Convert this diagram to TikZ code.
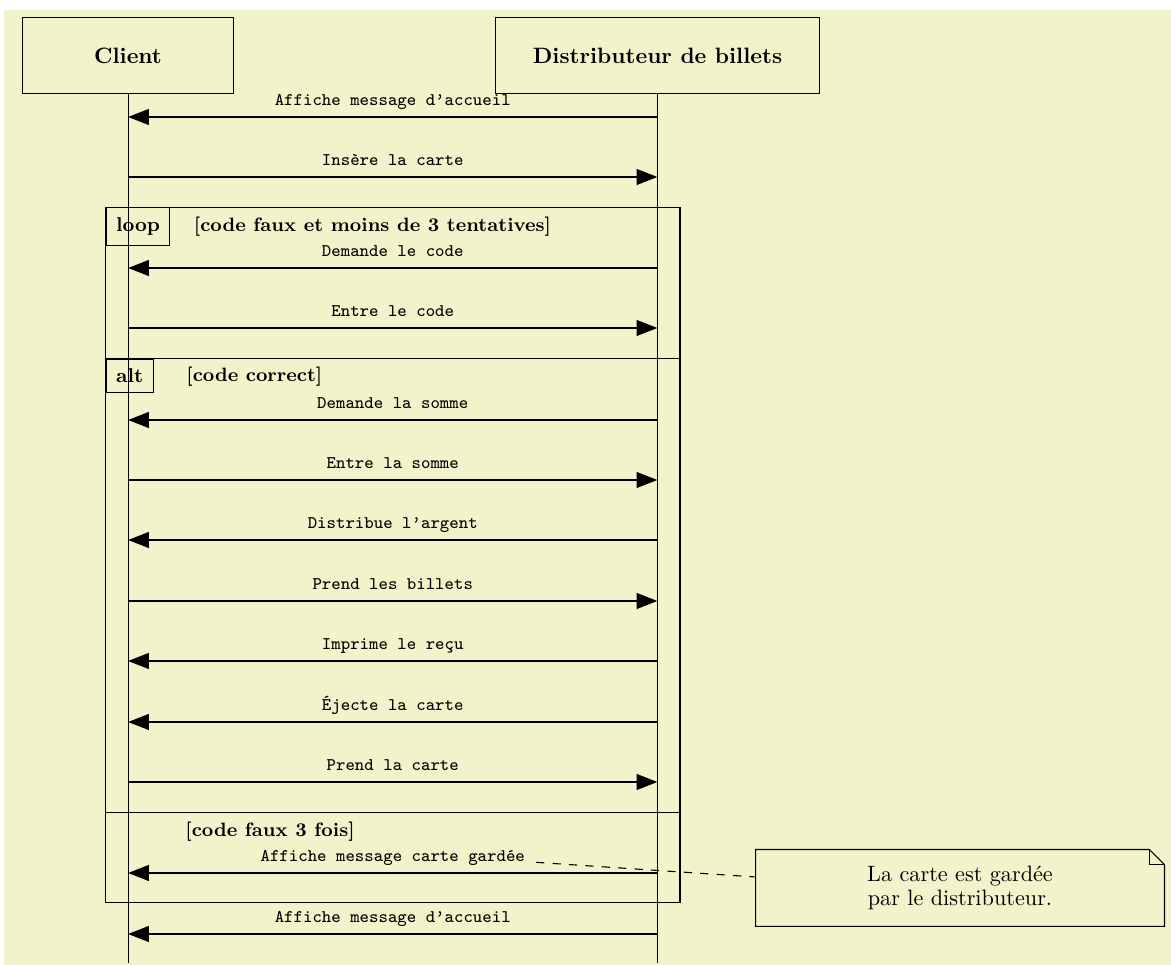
\documentclass[tikz,border=0pt]{standalone}
\usepackage{fontspec}
\usetikzlibrary{arrows.meta,calc}
\definecolor{paper}{RGB}{242,243,202}
\tikzset{
  actor/.style={draw, line width=0.45pt, fill=paper, font=\bfseries, minimum height=34.2pt, inner sep=0pt},
  lifeline/.style={line width=0.45pt},
  msg/.style={line width=1.1pt, -{Triangle[length=9.4pt,width=7pt]}},
  msglabel/.style={midway, anchor=base, yshift=5pt, font=\footnotesize\ttfamily, inner sep=0pt},
  frameline/.style={line width=0.5pt},
  tag/.style={draw, line width=0.5pt, anchor=north west, inner sep=4.4pt, font=\small\bfseries},
  cond/.style={anchor=west, inner sep=0pt, font={\fontsize{8.7}{10.4}\selectfont\bfseries}},
  notebox/.style={fill=paper, minimum width=183.6pt, minimum height=34.2pt, inner sep=0pt, align=center, font={\fontsize{10}{10.6}\selectfont}},
  notelink/.style={line width=0.5pt, dash pattern=on 3.7pt off 3.7pt},
}
% message from the machine to the client: name, y, text
\newcommand\msgleft[3]{%
  \coordinate (#1-d) at (dist |- 0,#2);
  \coordinate (#1-c) at (client |- 0,#2);
  \draw[msg] (#1-d) -- node[msglabel] (#1) {#3} (#1-c);}
% message from the client to the machine: name, y, text
\newcommand\msgright[3]{%
  \coordinate (#1-c) at (client |- 0,#2);
  \coordinate (#1-d) at (dist |- 0,#2);
  \draw[msg] (#1-c) -- node[msglabel] (#1) {#3} (#1-d);}
\begin{document}
\begin{tikzpicture}[x=0.45pt, y=-0.45pt]
\useasboundingbox (0,0) rectangle (1171,965);
\fill[paper] (4,10) rectangle (1171,965);

% combined fragments
\draw[frameline] (105.7,207.3) -- (680,207.3) -- (680,902.5) -- (105.7,902.5) -- cycle;
\draw[frameline] (105.7,358.7) -- (680,358.7);
\draw[frameline] (105.7,812.5) -- (680,812.5);
\node[tag] (looptag) at (105.7,207.3) {loop};
\node[tag] (alttag) at (105.7,358.7) {alt};
\node[cond] (loopcond) at (193.5,226.5) {[code faux et moins de 3 tentatives]};
\node[cond] (altcond) at (186,377) {[code correct]};
\node[cond] (elsecond) at (185,831.5) {[code faux 3 fois]};

% participants and lifelines
\node[actor, minimum width=94.5pt] (client) at (128,56) {Client};
\node[actor, minimum width=145.4pt] (dist) at (657.5,56) {Distributeur de billets};
\coordinate (clientEnd) at (128,963);
\coordinate (distEnd) at (657.5,963);
\draw[lifeline] (client.south) -- (clientEnd);
\draw[lifeline] (dist.south) -- (distEnd);

% messages
\msgleft{m1}{117}{Affiche message d’accueil}
\msgright{m2}{177}{Insère la carte}
\msgleft{m3}{268}{Demande le code}
\msgright{m4}{328}{Entre le code}
\msgleft{m5}{420}{Demande la somme}
\msgright{m6}{480}{Entre la somme}
\msgleft{m7}{540}{Distribue l’argent}
\msgright{m8}{601}{Prend les billets}
\msgleft{m9}{661}{Imprime le reçu}
\msgleft{m10}{722}{Éjecte la carte}
\msgright{m11}{782}{Prend la carte}
\msgleft{m12}{873}{Affiche message carte gardée}
\msgleft{m13}{934}{Affiche message d’accueil}

% note with folded corner
\node[notebox] (note) at (960,888) {La carte est gardée\\par le distributeur.};
\coordinate (foldA) at ([xshift=-6.75pt]note.north east);
\coordinate (foldB) at ([yshift=-6.75pt]note.north east);
\draw[line width=0.5pt] (note.north west) -- (foldA) -- (foldB) -- (note.south east) -- (note.south west) -- cycle;
\draw[line width=0.5pt] (foldA) |- (foldB);
\coordinate (linkStart) at ($(m12.east)+(10,4)$);
\coordinate (linkEnd) at (note.west |- 0,877);
\draw[notelink] (linkStart) -- (linkEnd);
\end{tikzpicture}
\end{document}
